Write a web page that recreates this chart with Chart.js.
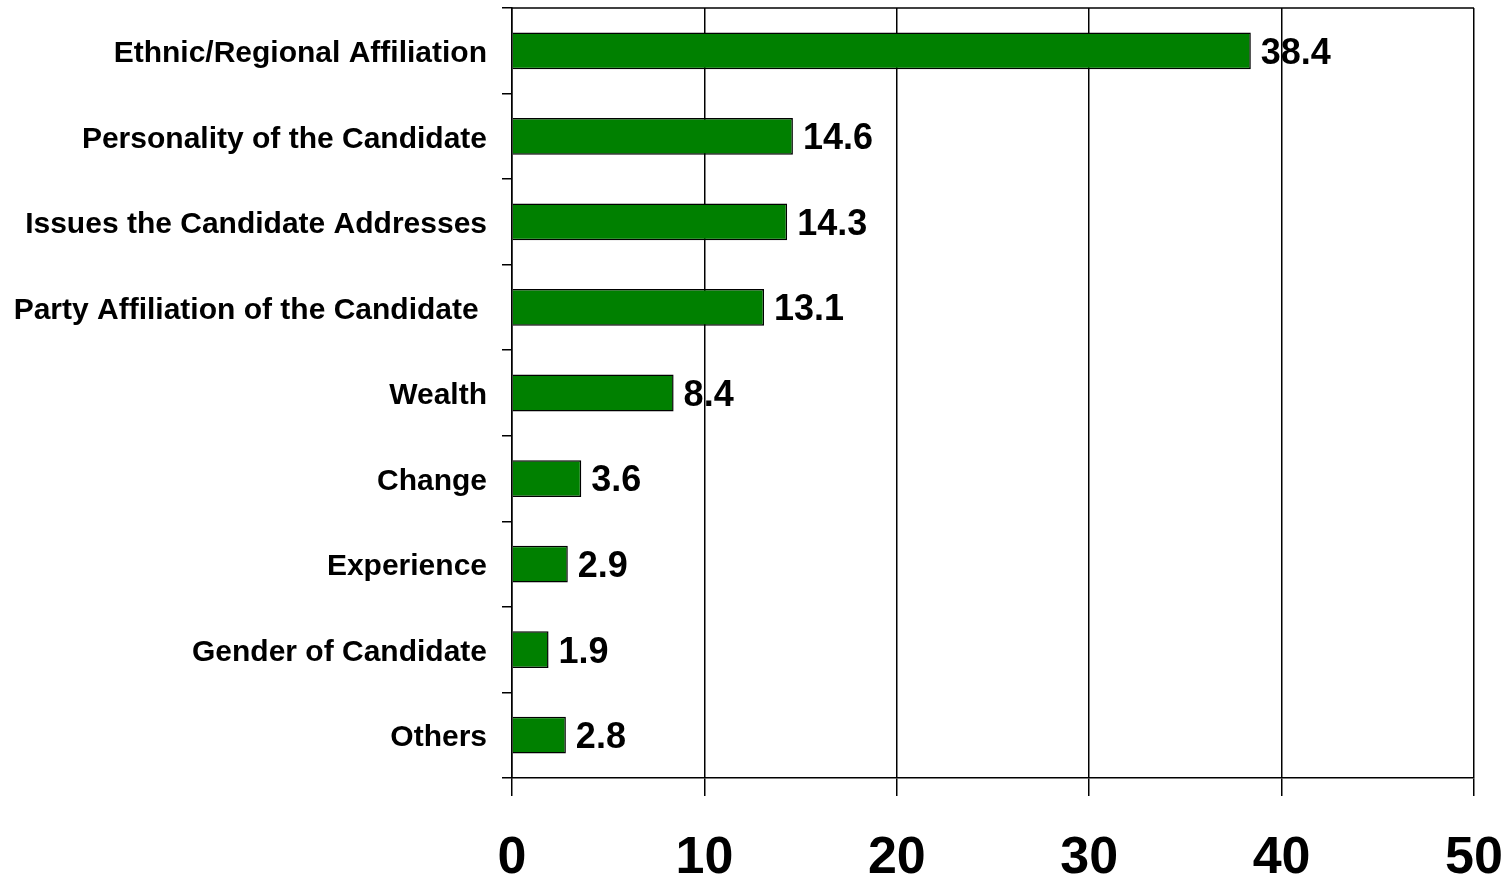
<!DOCTYPE html>
<html>
<head>
<meta charset="utf-8">
<script src="https://cdn.jsdelivr.net/npm/chart.js@4"></script>
<style>
html,body{margin:0;padding:0;background:#fff;}
#wrap{width:1510px;height:882px;}
</style>
</head>
<body>
<div id="wrap"><canvas id="c" width="1510" height="882"></canvas></div>
<script>
const categories = ["Ethnic/Regional Affiliation","Personality of the Candidate","Issues the Candidate Addresses","Party Affiliation of the Candidate ","Wealth","Change","Experience","Gender of Candidate","Others"];
const values = [38.4,14.6,14.3,13.1,8.4,3.6,2.9,1.9,2.8];
const xTicks = [0,10,20,30,40,50];

const FONT = "'Liberation Sans', Arial, sans-serif";

const borderPlugin = {
  id:'borderPlugin',
  afterDatasetsDraw(chart){
    const {ctx, chartArea:a} = chart;
    ctx.save();
    ctx.strokeStyle='#000';
    ctx.lineWidth=1.5;
    ctx.beginPath();
    ctx.moveTo(a.left,a.top);ctx.lineTo(a.right,a.top);
    ctx.stroke();
    ctx.restore();
  }
};
const labelPlugin = {
  id:'labelPlugin',
  afterDatasetsDraw(chart){
    const {ctx} = chart;
    const meta = chart.getDatasetMeta(0);
    ctx.save();
    ctx.fillStyle='#000';
    ctx.font='bold 36px '+FONT;
    ctx.textAlign='left';
    ctx.textBaseline='middle';
    meta.data.forEach((bar,i)=>{
      ctx.fillText(values[i].toFixed(1), bar.x+10, bar.y+3);
    });
    ctx.restore();
  }
};

new Chart(document.getElementById('c'),{
  type:'bar',
  data:{labels:categories,datasets:[{data:values,backgroundColor:'#008000',borderColor:'#000',borderWidth:1.5,categoryPercentage:1,barPercentage:0.43}]},
  options:{
    indexAxis:'y',
    responsive:false,
    animation:false,
    layout:{padding:{top:8,right:36,left:0,bottom:0}},
    plugins:{legend:{display:false},tooltip:{enabled:false}},
    scales:{
      x:{
        min:0,max:50,
        afterBuildTicks(ax){ax.ticks = xTicks.map(v=>({value:v}));},
        grid:{color:'#000',lineWidth:1.5,tickLength:18,drawTicks:true},
        border:{color:'#000',width:1.5},
        ticks:{color:'#000',font:{family:FONT,size:52,weight:'bold'},padding:31,maxRotation:0},
        afterFit(ax){ax.height=104;ax.paddingLeft=0;ax.paddingRight=0;}
      },
      y:{
        grid:{display:true,drawOnChartArea:false,color:'#000',lineWidth:1.5,tickLength:10,offset:true},
        border:{color:'#000',width:1.5},
        ticks:{color:'#000',font:{family:FONT,size:30,weight:'bold'},padding:15,labelOffset:3},
        afterFit(ax){ax.width=512;ax.paddingTop=0;ax.paddingBottom=0;}
      }
    }
  },
  plugins:[borderPlugin,labelPlugin]
});
</script>
</body>
</html>
